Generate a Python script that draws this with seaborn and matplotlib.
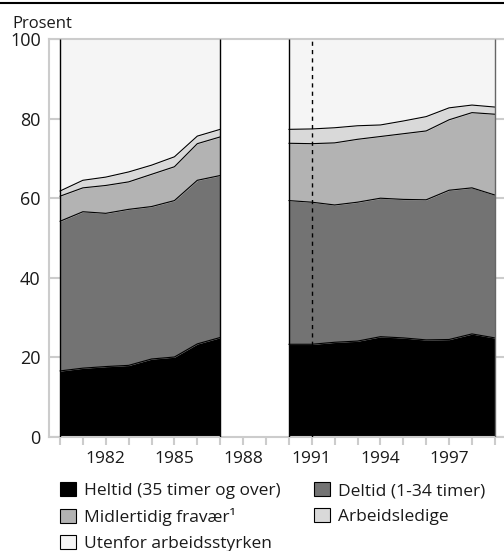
import numpy as np
import pandas as pd
import matplotlib
matplotlib.use("Agg")
import matplotlib.pyplot as plt
from matplotlib.patches import Patch
from matplotlib.lines import Line2D
import seaborn as sns

# data, percent of population (layer thickness)
years_a = [1980, 1981, 1982, 1983, 1984, 1985, 1986, 1987]
years_b = [1990, 1991, 1992, 1993, 1994, 1995, 1996, 1997, 1998, 1999]

heltid_a = [16.6, 17.3, 17.7, 18.0, 19.6, 20.1, 23.4, 25.0]
deltid_a = [37.6, 39.3, 38.5, 39.2, 38.3, 39.3, 41.1, 40.7]
fravaer_a = [6.3, 6.0, 7.0, 6.9, 8.1, 8.5, 9.2, 9.7]
ledige_a = [1.3, 1.9, 2.1, 2.5, 2.3, 2.5, 1.9, 1.9]
utenfor_a = [38.2, 35.5, 34.7, 33.4, 31.7, 29.6, 24.4, 22.7]

heltid_b = [23.3, 23.3, 23.8, 24.1, 25.2, 24.9, 24.4, 24.5, 25.9, 24.9]
deltid_b = [36.1, 35.7, 34.5, 34.9, 34.8, 34.8, 35.2, 37.5, 36.7, 35.9]
fravaer_b = [14.4, 14.7, 15.6, 15.8, 15.5, 16.5, 17.3, 17.7, 18.9, 20.3]
ledige_b = [3.5, 3.7, 3.8, 3.4, 2.9, 3.2, 3.6, 3.0, 1.9, 1.8]
utenfor_b = [22.7, 22.6, 22.3, 21.8, 21.6, 20.6, 19.5, 17.3, 16.6, 17.1]

labels = ["Heltid (35 timer og over)", "Deltid (1-34 timer)",
          "Midlertidig fravær¹", "Arbeidsledige", "Utenfor arbeidsstyrken"]
colors = ["#000000", "#737373", "#b3b3b3", "#d9d9d9", "#f5f5f5"]

break_year = 1991
label_years = [1982, 1985, 1988, 1991, 1994, 1997]

sns.set_theme(style="ticks")
plt.rcParams["font.family"] = ["Open Sans", "DejaVu Sans"]
text_color = "#1a1a1a"
grid_color = "#cccccc"

W, H = 504, 551
fig = plt.figure(figsize=(W / 100, H / 100), dpi=100)
ax = fig.add_axes([49 / W, 1 - 437 / H, 455 / W, 398 / H])

ax.set_xlim(1979.52, 1999.4)
ax.set_ylim(0, 100)

# grid behind everything
ax.set_yticks([0, 20, 40, 60, 80, 100])
ax.yaxis.grid(True, color=grid_color, lw=1.5)
ax.set_axisbelow(True)

# white gap between the two series
ax.fill_between([years_a[-1], years_b[0]], 0, 100, color="white", lw=0, zorder=1)

segments = [
    (years_a, [heltid_a, deltid_a, fravaer_a, ledige_a, utenfor_a]),
    (years_b, [heltid_b, deltid_b, fravaer_b, ledige_b, utenfor_b]),
]

for yrs, layers in segments:
    cum = np.cumsum(np.array(layers), axis=0)
    lower = np.zeros(len(yrs))
    for i, c in enumerate(colors):
        ax.fill_between(yrs, lower, cum[i], facecolor=c, edgecolor=c, lw=0.4, zorder=2)
        lower = cum[i]
    rows = []
    for i in range(4):
        for x, v in zip(yrs, cum[i]):
            rows.append({"year": x, "value": v, "layer": i})
    df = pd.DataFrame(rows)
    sns.lineplot(data=df, x="year", y="value", units="layer", estimator=None,
                 color="black", lw=0.8, ax=ax, zorder=3)
    ax.vlines([yrs[0]], 0, 100, colors="black", lw=1.0, zorder=3)
    edge = "black" if yrs is years_a else "#666666"
    ax.vlines([yrs[-1]], 0, 100, colors=edge, lw=1.0, zorder=3)

ax.axvline(break_year, color="black", ls=(0, (3, 3)), lw=1.0, zorder=4)

ax.set_xlabel("")
ax.set_ylabel("")

xt = list(range(1980, 2000))
ax.set_xticks(xt)
ax.set_xticklabels([str(y) if y in label_years else "" for y in xt])
ax.tick_params(axis="x", direction="out", length=6, width=1.5, color=grid_color,
               pad=4, labelsize=12.5, labelcolor=text_color)
ax.tick_params(axis="y", length=0, pad=6, labelsize=13, labelcolor=text_color)

for s in ["left", "bottom", "top"]:
    ax.spines[s].set_color(grid_color)
    ax.spines[s].set_linewidth(1.5)
ax.spines["right"].set_visible(False)

fig.text(12 / W, 1 - 28 / H, "Prosent", fontsize=12, color=text_color,
         ha="left", va="baseline")
fig.add_artist(Line2D([0, 1], [1 - 2.5 / H] * 2, color="black", lw=1.5))

order = [0, 2, 4, 1, 3]
handles = [Patch(facecolor=colors[i], edgecolor="black", lw=0.8) for i in order]
fig.legend(handles, [labels[i] for i in order], ncol=2, loc="upper left",
           bbox_to_anchor=(60 / W, 1 - 482 / H), frameon=False, fontsize=12.5,
           handlelength=0.9, handleheight=0.9, handletextpad=0.5,
           columnspacing=1.9, labelspacing=0.5, borderpad=0, borderaxespad=0,
           labelcolor=text_color)

fig.savefig("out.png", dpi=100)
